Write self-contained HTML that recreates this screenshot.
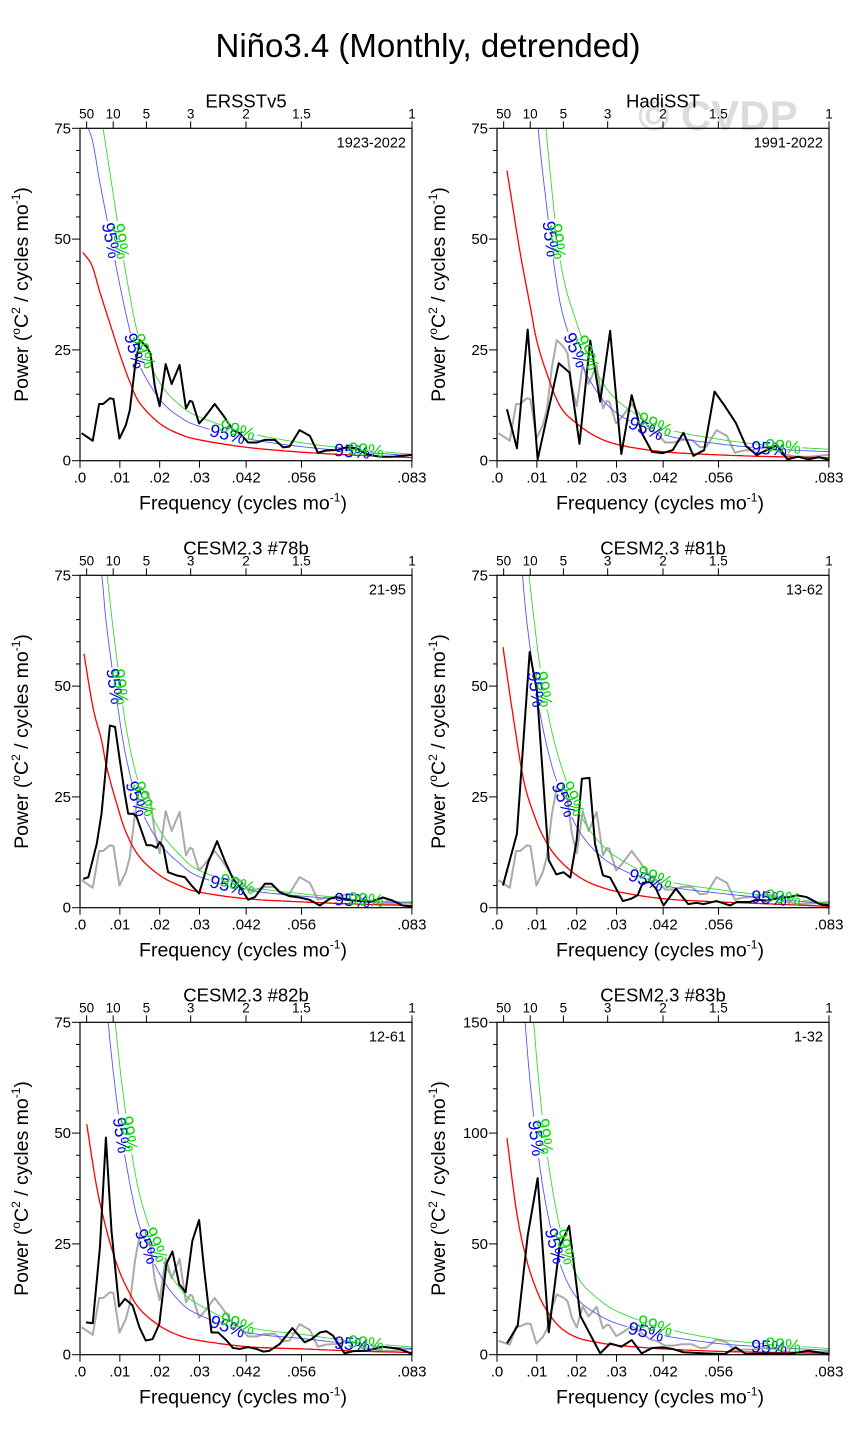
<!DOCTYPE html>
<html><head><meta charset="utf-8"><style>
html,body{margin:0;padding:0;background:#fff;}
svg{display:block;font-family:"Liberation Sans",Arial,sans-serif;}
</style></head><body>
<svg id="fig" width="856" height="1438" viewBox="0 0 856 1438" xmlns="http://www.w3.org/2000/svg">
<rect width="856" height="1438" fill="#fff"/>
<text x="428" y="57" font-size="33" text-anchor="middle">Niño3.4 (Monthly, detrended)</text>
<text x="718" y="130" font-size="42" font-weight="bold" fill="#dcdcdc" text-anchor="middle">© CVDP</text>
<g id="panels"></g>
</svg>
<script>
// ---- data ----
const ersstF=[.0004,.0032,.0048,.0058,.0075,.0084,.0099,.0115,.0125,.0138,.015,.0167,.0177,.0188,.02,.0215,.023,.025,.0266,.0276,.0282,.0299,.0313,.0338,.0359,.0376,.0384,.0401,.0422,.0443,.0464,.0489,.051,.0526,.0551,.0577,.0597,.0618,.0643,.0668,.0694,.0719,.0752,.0785,.0819,.0833];
const ersstP=[6.2,4.5,12.8,12.8,14.1,13.9,5.0,8.0,11.4,21.2,27.2,25.7,24.2,16.7,12.3,21.8,17.3,21.6,11.8,13.5,13.3,8.4,9.8,12.8,10.3,8.0,6.9,6.2,4.1,4.1,4.7,4.7,3.0,3.2,6.9,5.6,1.8,2.3,2.4,3.0,2.8,1.5,0.9,0.9,1.2,1.3];
const hadF=[.0025,.005,.0077,.0102,.0155,.0182,.0207,.0234,.0259,.0284,.0312,.0338,.0363,.0389,.0416,.0441,.0468,.0493,.052,.0546,.0572,.0599,.0625,.0652,.0677,.0703,.0729,.0756,.0781,.0808,.0833];
const hadP=[11.6,2.8,29.6,0.3,22,19.9,3.8,27.1,13.3,29.3,1.5,14.8,6.3,2.0,1.7,2.4,6.3,1.1,2.4,15.6,12.3,8.6,3.3,1.3,2.4,3.5,0.3,0.9,0.3,0.8,0.2];
const c78F=[.0008,.0021,.0042,.0054,.0075,.0088,.01,.0113,.0121,.0134,.0142,.0167,.018,.0192,.02,.0209,.0221,.0242,.0263,.028,.0299,.0322,.0344,.0363,.0384,.0401,.0422,.0439,.0464,.0481,.0501,.0526,.0551,.0576,.0602,.0627,.0643,.0668,.0693,.0727,.076,.0785,.081,.0833];
const c78P=[6.5,6.9,14.4,21.2,41.1,40.8,33.2,25.4,21.2,21.2,20.5,14.1,14.1,13.5,14.8,13.7,8.0,7.3,6.9,5.0,3.2,10.3,15.0,10.7,6.5,4.7,1.8,2.4,5.4,5.4,3.5,2.6,2.3,1.8,0.5,2.0,2.4,1.8,1.6,1.3,2.3,1.6,0.5,0.3];
const c81F=[.0015,.005,.0082,.01,.013,.0149,.0167,.0184,.02,.0213,.0232,.0246,.0266,.0284,.0316,.0336,.0353,.0366,.0384,.0399,.0418,.0449,.048,.0501,.0518,.0551,.0585,.0602,.0635,.0652,.0677,.071,.0735,.0752,.0777,.081,.0833];
const c81P=[5.0,16.7,57.7,49,10.7,7.5,8.0,6.8,15.2,29.1,29.3,14.4,7.3,6.8,1.5,2.0,2.8,5.6,5.8,4.3,0.5,4.3,0.8,1.1,0.8,1.5,0.5,1.3,1.3,1.8,1.6,2.3,2.4,2.8,2.4,0.8,0.5];
const c82F=[.0015,.0032,.005,.0065,.0079,.0098,.0113,.0132,.0149,.0165,.0182,.0199,.0217,.0232,.0249,.0265,.0282,.0299,.0311,.033,.0347,.0368,.0384,.0401,.0422,.0443,.046,.0476,.0501,.0533,.0564,.0581,.0602,.0618,.0635,.0664,.0685,.0719,.076,.0802,.0833];
const c82P=[7.3,7.1,24.2,49.0,28.0,10.9,12.6,11.1,6.2,3.2,3.5,6.9,20.5,23.3,15.9,14.1,25.7,30.4,19.7,5.0,5.0,3.2,1.5,1.3,1.7,1.3,0.7,0.9,2.4,6.0,2.8,3.5,5.0,5.3,4.3,0.3,0.8,0.9,1.8,1.3,0.2];
const c83F=[.0025,.0052,.0077,.0102,.013,.0157,.0181,.0209,.0259,.0284,.0312,.0338,.0363,.0389,.0416,.0441,.0468,.052,.0572,.0599,.0625,.0677,.0729,.0781,.0833];
const c83P=[5.1,13.1,53.7,79.7,10.1,48.7,58.2,17.6,0.6,5.1,3.6,6.6,0.6,3.0,3.3,2.6,1.1,0.6,0.3,3.3,0.3,0.6,0.3,1.8,0.3];
// red-noise (Markov) spectra sampled
const red1F=[.0007,.003,.005,.0075,.01,.0125,.015,.02,.025,.03,.042,.056,.07,.0833];
const red1P=[47,44,38,31,24,17.8,13,8.4,6,4.7,3.0,1.9,1.2,0.7];
const red2F=[.0025,.0058,.0083,.01,.0125,.0159,.02,.025,.031,.042,.056,.07,.0833];
const red2P=[65.5,47,35,27,19.7,12.2,8.4,5.4,3.5,2.0,1.3,0.9,0.7];
const red3F=[.001,.0033,.0054,.0067,.0092,.0117,.015,.02,.025,.03,.042,.056,.07,.0833];
const red3P=[57.3,45,37.8,31.7,23.5,16.7,11.4,7.3,5.0,3.5,2.0,1.3,0.8,0.5];
const red4F=[.0015,.0042,.0067,.0092,.0117,.015,.02,.025,.031,.042,.056,.07,.0833];
const red4P=[58.8,42.3,28.7,21.2,15.9,11.4,7.3,5.0,3.5,2.0,1.3,0.8,0.3];
const red5F=[.0017,.0042,.0067,.0092,.0117,.015,.02,.025,.03,.042,.056,.07,.0833];
const red5P=[52,37.8,28,20.5,15.2,10.3,6.5,4.3,3.2,1.8,1.3,0.8,0.5];
const red6F=[.0025,.005,.0075,.01,.0125,.0159,.02,.025,.031,.042,.056,.07,.0833];
const red6P=[97.8,63.5,42.4,28.9,19.9,12.3,7.8,5.6,4.1,2.6,1.5,1.0,0.6];
const sig95=[1.65,2.9,2.0,2.5,2.8,3.3];
const sig99=[2.1,3.7,2.4,3.1,3.5,4.6];
const panelTitles=["ERSSTv5","HadiSST","CESM2.3 #78b","CESM2.3 #81b","CESM2.3 #82b","CESM2.3 #83b"];
const yearLabels=["1923-2022","1991-2022","21-95","13-62","12-61","1-32"];
const yMaxes=[75,75,75,75,75,150];
const periodTicks=[50,10,5,3,2,1.5,1];
const freqTicks=[0,.01,.02,.03,.0417,.0556,.0833];
const freqTickLabels=[".0",".01",".02",".03",".042",".056",".083"];

// ---- drawing ----
const NS="http://www.w3.org/2000/svg";
const root=document.getElementById('panels');
const FMAX=0.08333, PW=332, PH=332.4;
const cols=[80,497], rows=[128.3,575.3,1022.3];
function mk(tag,attrs,parent){const e=document.createElementNS(NS,tag);for(const k in attrs)e.setAttribute(k,attrs[k]);(parent||root).appendChild(e);return e;}
function spline(pts){const out=[];for(let i=0;i<pts.length-1;i++){const p0=pts[Math.max(0,i-1)],p1=pts[i],p2=pts[i+1],p3=pts[Math.min(pts.length-1,i+2)];for(let s=0;s<16;s++){const t=s/16,t2=t*t,t3=t2*t;out.push([0.5*((2*p1[0])+(-p0[0]+p2[0])*t+(2*p0[0]-5*p1[0]+4*p2[0]-p3[0])*t2+(-p0[0]+3*p1[0]-3*p2[0]+p3[0])*t3),0.5*((2*p1[1])+(-p0[1]+p2[1])*t+(2*p0[1]-5*p1[1]+4*p2[1]-p3[1])*t2+(-p0[1]+3*p1[1]-3*p2[1]+p3[1])*t3)]);}}out.push(pts[pts.length-1]);return out;}
const specF=[ersstF,hadF,c78F,c81F,c82F,c83F], specP=[ersstP,hadP,c78P,c81P,c82P,c83P];
const redF=[red1F,red2F,red3F,red4F,red5F,red6F], redP=[red1P,red2P,red3P,red4P,red5P,red6P];

for(let k=0;k<6;k++){
  const x0=cols[k%2], y0=rows[Math.floor(k/2)], ymax=yMaxes[k];
  const X=f=>x0+f/FMAX*PW, Y=p=>y0+PH-p/ymax*PH;
  const g=mk('g',{});
  
  
  const cid='clip'+k;
  const cp=mk('clipPath',{id:cid},g); mk('rect',{x:x0,y:y0,width:PW,height:PH},cp);
  const plot=mk('g',{'clip-path':'url(#'+cid+')'},g);
  if(k>0){const pl=mk('polyline',{points:ersstF.map((f,i)=>X(f)+','+Y(ersstP[i])).join(' '),fill:'none',stroke:'#aaaaaa','stroke-width':2,'stroke-linejoin':'round'},plot);
    
    }
  const curves=[{m:1,c:'#ff0000',w:1.3,name:'red-noise-curve'},{m:sig95[k],c:'#5555ff',w:0.9,name:'sig95-curve',lab:'95%',lc:'#0000ee',fx:[.037,.068]},{m:sig99[k],c:'#33dd33',w:0.9,name:'sig99-curve',lab:'99%',lc:'#00dd00',fx:[.039,.071]}];
  curves.forEach(cv=>{
    const pts=spline(redF[k].map((f,i)=>[X(f),Y(redP[k][i]*cv.m)]));
    const labs=[];
    if(cv.lab){
      [0.667,0.333].forEach(fr=>{const yt=Y(ymax*fr);let i=pts.findIndex(p=>p[1]>=yt);if(i>0)labs.push(i);});
      cv.fx.forEach(fx=>{const xt=X(fx);let i=pts.findIndex(p=>p[0]>=xt);if(i>0)labs.push(i);});
    }
    const centers=labs.map(i=>pts[i]);
    let seg=[];const segs=[];
    pts.forEach(p=>{const near=centers.some(c=>Math.hypot(c[0]-p[0],c[1]-p[1])<17);if(near){if(seg.length>1)segs.push(seg);seg=[];}else seg.push(p);});
    if(seg.length>1)segs.push(seg);
    segs.forEach(s=>{const pl=mk('polyline',{points:s.map(p=>p[0].toFixed(1)+','+p[1].toFixed(1)).join(' '),fill:'none',stroke:cv.c,'stroke-width':cv.w},plot);
      
      });
    labs.forEach(i=>{const a=pts[Math.max(0,i-5)],b=pts[Math.min(pts.length-1,i+5)];const ang=Math.atan2(b[1]-a[1],b[0]-a[0])*180/Math.PI;const c=pts[i];
      const t=mk('text',{x:0,y:0,'font-size':18,fill:cv.lc,'text-anchor':'middle','dominant-baseline':'central',transform:'translate('+c[0].toFixed(1)+','+c[1].toFixed(1)+') rotate('+ang.toFixed(1)+')'},g);
      
      
      t.textContent=cv.lab;});
  });
  const sp=mk('polyline',{points:specF[k].map((f,i)=>X(f)+','+Y(specP[k][i])).join(' '),fill:'none',stroke:'#000','stroke-width':2,'stroke-linejoin':'round'},plot);
  
  
  const fr=mk('rect',{x:x0,y:y0,width:PW,height:PH,fill:'none',stroke:'#000','stroke-width':1.2},g);
  
  
  const minorStep=ymax/15, majorStep=ymax/3;
  for(let v=0;v<=ymax+0.001;v+=minorStep){const isMaj=Math.abs(v/majorStep-Math.round(v/majorStep))<0.01;mk('line',{x1:x0,x2:x0-(isMaj?8:4),y1:Y(v),y2:Y(v),stroke:'#000','stroke-width':1},g);
    if(isMaj){const t=mk('text',{x:x0-9,y:Y(v)+5,'font-size':15,'text-anchor':'end'},g);
      
      
      t.textContent=Math.round(v);}}
  freqTicks.forEach((f,i)=>{mk('line',{x1:X(f),x2:X(f),y1:y0+PH,y2:y0+PH+7,stroke:'#000','stroke-width':1},g);
    const t=mk('text',{x:X(f),y:y0+PH+22,'font-size':15,'text-anchor':'middle'},g);
    
    
    t.textContent=freqTickLabels[i];});
  periodTicks.forEach(p=>{const f=1/(12*p);mk('line',{x1:X(f),x2:X(f),y1:y0,y2:y0-7,stroke:'#000','stroke-width':1},g);
    const t=mk('text',{x:X(f),y:y0-10,'font-size':13.5,'text-anchor':'middle'},g);
    
    
    t.textContent=p;});
  const tt=mk('text',{x:x0+PW/2,y:y0-21,'font-size':18.5,'text-anchor':'middle'},g);
  
  
  tt.textContent=panelTitles[k];
  const yl=mk('text',{x:x0+PW-6,y:y0+19,'font-size':14.5,'text-anchor':'end'},g);
  
  
  yl.textContent=yearLabels[k];
  const xt=mk('text',{x:x0+PW/2-3,y:y0+PH+49,'font-size':19.5,'text-anchor':'middle'},g);
  
  
  xt.innerHTML='Frequency (cycles mo<tspan font-size="12" dy="-8">-1</tspan><tspan dy="8">)</tspan>';
  const ytx=x0-52, yty=y0+PH/2;
  const yt=mk('text',{x:ytx,y:yty,'font-size':19.5,'text-anchor':'middle',transform:'rotate(-90 '+ytx+' '+yty+')'},g);
  
  
  yt.innerHTML='Power (<tspan font-size="12" dy="-8">o</tspan><tspan dy="8">C</tspan><tspan font-size="12" dy="-8">2</tspan><tspan dy="8"> / cycles mo</tspan><tspan font-size="12" dy="-8">-1</tspan><tspan dy="8">)</tspan>';
}
</script>
</body></html>
